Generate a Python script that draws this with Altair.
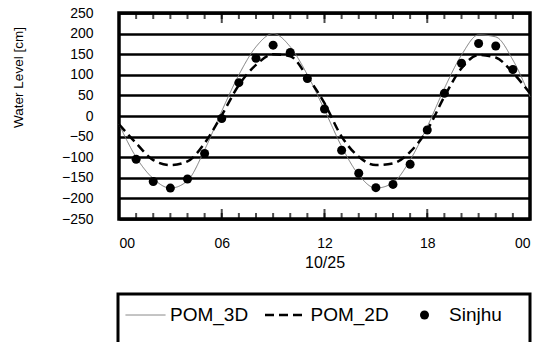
import altair as alt
import pandas as pd

# ---- data ----
hours = list(range(25))
pom_3d = [-20, -100, -152, -175, -157, -82, 12, 100, 168, 200, 168, 100, 15,
          -74, -143, -175, -162, -107, -26, 67, 148, 197, 192, 136, 47]
pom_2d = [-20, -66, -107, -119, -110, -66, 2, 75, 124, 150, 145, 95, 31,
          -50, -99, -119, -115, -87, -34, 47, 116, 148, 142, 105, 55]
obs_hours = list(range(1, 24))
sinjhu = [-105, -159, -175, -153, -91, -6, 81, 140, 172, 154, 91, 17, -83,
          -139, -174, -166, -117, -34, 55, 128, 176, 170, 113]

series_names = ["POM_3D", "POM_2D", "Sinjhu"]
minor_hours = list(range(25))
major_hours = [0, 6, 12, 18, 24]
y_values = list(range(-250, 251, 50))
y_limits = [-250, 250]

lines_df = pd.DataFrame({
    "hour": hours + hours,
    "level": pom_3d + pom_2d,
    "series": [series_names[0]] * len(hours) + [series_names[1]] * len(hours),
})
obs_df = pd.DataFrame({"hour": obs_hours, "level": sinjhu,
                       "series": [series_names[2]] * len(obs_hours)})
minor_df = pd.DataFrame({"hour": minor_hours * 2,
                         "level": [y_limits[0]] * 25 + [y_limits[1]] * 25})
major_df = pd.DataFrame({"hour": major_hours * 2,
                         "level": [y_limits[0]] * 5 + [y_limits[1]] * 5})

FONT = "Liberation Sans"
BLANK = "\u2800" * 2

xscale = alt.Scale(domain=[0, 24], nice=False, zero=False)
yscale = alt.Scale(domain=y_limits, nice=False, zero=False)

legend = alt.Legend(
    orient="none", legendX=-1, legendY=281, direction="horizontal",
    title=" ", titleOrient="bottom", titleFontSize=20, titlePadding=4,
    gridAlign="each", columnPadding=7.5, padding=0, clipHeight=42,
    symbolOffset=7, labelOffset=4,
    labelExpr="datum.label == 'Sinjhu' ? datum.label + '" + BLANK + "' : datum.label",
    strokeColor="black", labelFontSize=19, labelFont=FONT,
    labelColor="black",
)

x_axis = alt.Axis(
    values=major_hours,
    labelExpr="datum.value == 24 ? '00' : (datum.value < 10 ? '0' + datum.value : '' + datum.value)",
    title="10/25", titleFontSize=16, titleFont=FONT, titleFontWeight="normal",
    titleColor="black", titlePadding=4,
    labelFontSize=14, labelFont=FONT, labelColor="black", labelPadding=17,
    ticks=False, domain=False, grid=False)
y_axis = alt.Axis(
    values=y_values, title="Water Level [cm]", titleFontSize=13.5, titleFont=FONT,
    titleFontWeight="normal", titleColor="black", titleX=-101, titleY=64,
    titleAngle=270, titleAlign="center", titleBaseline="middle",
    labelFontSize=14, labelFont=FONT, labelColor="black", labelPadding=26,
    labelOverlap=False, labelFlush=False,
    ticks=False, domain=False, grid=True, gridColor="black", gridWidth=2.7,
    gridOpacity=1)

x_enc = alt.X("hour:Q", scale=xscale, axis=x_axis)
y_enc = alt.Y("level:Q", scale=yscale, axis=y_axis)

stroke = alt.Stroke("series:N", scale=alt.Scale(domain=series_names,
                    range=["#7a7a7a", "black", "transparent"]), legend=legend)
fill = alt.Fill("series:N", scale=alt.Scale(domain=series_names,
                range=["transparent", "transparent", "black"]), legend=legend)
dash = alt.StrokeDash("series:N", scale=alt.Scale(domain=series_names,
                      range=[[1, 0], [9, 5], [1, 0]]), legend=legend)
swidth = alt.StrokeWidth("series:N", scale=alt.Scale(type="ordinal",
                         domain=series_names, range=[1, 2.5, 32]), legend=legend)
shape = alt.Shape("series:N", scale=alt.Scale(domain=series_names,
                  range=["stroke", "stroke", "circle"]), legend=legend)
size = alt.Size("series:N", scale=alt.Scale(type="ordinal", domain=series_names,
                range=[1600, 1600, 81]), legend=legend)

lines = alt.Chart(lines_df).mark_line(interpolate="monotone").encode(
    x=x_enc, y=y_enc, stroke=stroke, strokeDash=dash, strokeWidth=swidth,
    detail="series:N")
points = alt.Chart(obs_df).mark_point(filled=True, opacity=1, strokeWidth=0).encode(
    x=x_enc, y=y_enc, fill=fill, shape=shape, size=size)
minor = alt.Chart(minor_df).mark_tick(
    orient="vertical", size=12, thickness=2, color="black", clip=True
).encode(x=x_enc, y=y_enc)
major = alt.Chart(major_df).mark_tick(
    orient="vertical", size=20, thickness=2, color="black", clip=True
).encode(x=x_enc, y=y_enc)

chart = alt.layer(lines, points, minor, major).properties(
    width=411, height=206,
    autosize=alt.AutoSizeParams(type="none"),
    padding={"left": 119, "top": 13, "right": 18, "bottom": 123},
    background="white",
).configure_view(stroke="black", strokeWidth=3.5).configure_legend(
    strokeWidth=3)

chart.save("out.html", embed_options={"renderer": "svg", "actions": False})
